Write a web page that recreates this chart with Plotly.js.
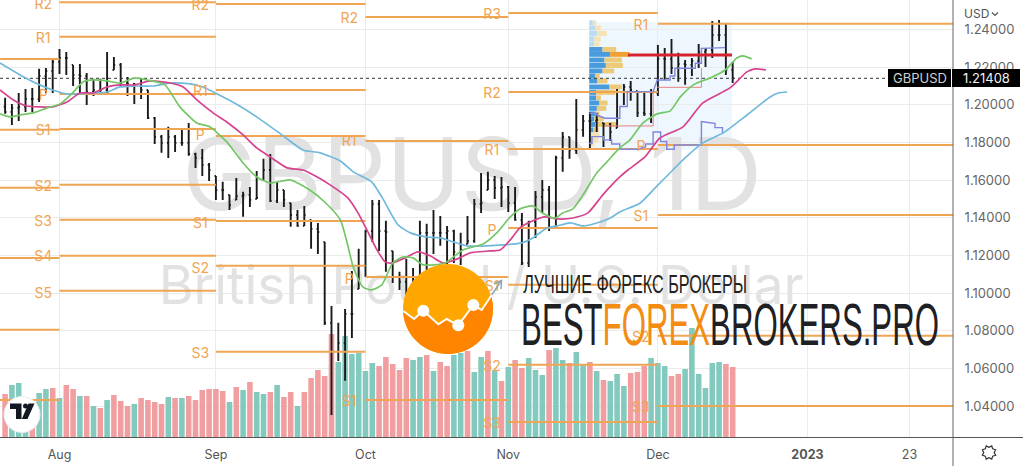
<!DOCTYPE html>
<html><head><meta charset="utf-8">
<script src="https://cdn.plot.ly/plotly-3.0.1.min.js"></script>
<style>html,body{margin:0;padding:0;background:#fff;overflow:hidden}#chart{width:1023px;height:466px}</style>
</head><body><div id="chart"></div>
<script>
// ---------- Daily bars, bar 0 = 1 Aug 2022
const barIndex = Array.from({length:108},(_,k)=>k-8);
const opens = [1.1990,1.1962,1.1984,1.1989,1.2031,1.2031,1.2153,1.2180,
1.2228,1.2249,1.2212,1.2159,1.2153,1.2068,1.2079,1.2079,1.2185,1.2212,1.2116,1.2111,1.2058,1.2079,1.1930,1.1830,1.1798,1.1830,1.1798,1.1798,1.1739,1.1718,1.1681,1.1622,1.1548,1.1522,1.1495,1.1516,1.1522,1.1500,1.1601,1.1654,1.1490,1.1548,1.1479,1.1415,1.1357,1.1389,1.1341,1.1272,1.0842,1.0688,1.0736,1.0890,1.1022,1.1145,1.1330,1.1474,1.1330,1.1224,1.1086,1.1060,1.1086,1.1070,1.1320,1.1320,1.1320,1.1320,1.1330,1.1219,1.1261,1.1277,1.1474,1.1548,1.1601,1.1559,1.1564,1.1479,1.1389,1.1160,1.1378,1.1511,1.1548,1.1346,1.1718,1.1830,1.1760,1.1867,1.1914,1.1914,1.1904,1.1899,1.1877,1.2068,1.2095,1.2074,1.1957,1.1952,1.2063,1.2244,1.2244,1.2196,1.2217,1.2212,1.2233,1.2281,1.2291,1.2371,1.2371,1.2185];
const highs = [1.2037,1.2005,1.2063,1.2084,1.2090,1.2191,1.2196,1.2249,
1.2297,1.2281,1.2212,1.2217,1.2169,1.2138,1.2138,1.2281,1.2254,1.2222,1.2148,1.2116,1.2143,1.2079,1.1936,1.1840,1.1883,1.1840,1.1867,1.1904,1.1745,1.1766,1.1691,1.1622,1.1591,1.1522,1.1612,1.1538,1.1564,1.1649,1.1713,1.1739,1.1591,1.1548,1.1479,1.1442,1.1463,1.1389,1.1373,1.1272,1.0932,1.0842,1.0916,1.1118,1.1235,1.1336,1.1495,1.1495,1.1384,1.1224,1.1113,1.1182,1.1134,1.1384,1.1368,1.1442,1.1410,1.1357,1.1336,1.1320,1.1410,1.1500,1.1638,1.1644,1.1622,1.1617,1.1569,1.1564,1.1426,1.1384,1.1543,1.1601,1.1569,1.1729,1.1856,1.1830,1.2031,1.1946,1.1962,1.1957,1.1904,1.1904,1.2084,1.2111,1.2127,1.2074,1.2068,1.2084,1.2318,1.2302,1.2350,1.2276,1.2238,1.2249,1.2323,1.2302,1.2445,1.2451,1.2435,1.2228];
const lows = [1.1952,1.1893,1.1914,1.1962,1.1962,1.2015,1.2063,1.2063,
1.2164,1.2159,1.2100,1.2058,1.1999,1.2047,1.2058,1.2063,1.2185,1.2100,1.2047,1.2005,1.2031,1.1925,1.1792,1.1745,1.1718,1.1750,1.1782,1.1729,1.1665,1.1622,1.1596,1.1495,1.1495,1.1442,1.1495,1.1405,1.1458,1.1500,1.1601,1.1484,1.1479,1.1458,1.1352,1.1352,1.1357,1.1235,1.1208,1.0831,1.0353,1.0640,1.0534,1.0762,1.1022,1.1086,1.1272,1.1224,1.1113,1.1054,1.1017,1.0991,1.0964,1.1044,1.1123,1.1208,1.1251,1.1155,1.1160,1.1150,1.1261,1.1267,1.1426,1.1548,1.1500,1.1458,1.1431,1.1384,1.1150,1.1139,1.1293,1.1426,1.1330,1.1346,1.1644,1.1713,1.1739,1.1830,1.1766,1.1856,1.1776,1.1808,1.1877,1.1999,1.2021,1.1936,1.1941,1.1904,1.2047,1.2132,1.2164,1.2122,1.2106,1.2153,1.2196,1.2201,1.2249,1.2339,1.2159,1.2116];
const closes = [1.1962,1.1984,1.1989,1.2031,1.2031,1.2153,1.2180,1.2228,
1.2249,1.2249,1.2159,1.2153,1.2068,1.2079,1.2079,1.2068,1.2212,1.2116,1.2111,1.2058,1.2079,1.1930,1.1830,1.1798,1.1830,1.1798,1.1798,1.1739,1.1718,1.1681,1.1654,1.1548,1.1548,1.1468,1.1516,1.1522,1.1495,1.1506,1.1654,1.1490,1.1548,1.1495,1.1415,1.1357,1.1415,1.1341,1.1325,1.0842,1.0688,1.0736,1.0890,1.0890,1.1145,1.1330,1.1474,1.1330,1.1325,1.1086,1.1060,1.1086,1.1070,1.1320,1.1320,1.1320,1.1320,1.1330,1.1219,1.1229,1.1277,1.1474,1.1479,1.1601,1.1559,1.1564,1.1479,1.1389,1.1160,1.1378,1.1511,1.1548,1.1346,1.1718,1.1830,1.1760,1.1867,1.1914,1.1914,1.1920,1.1899,1.1856,1.2068,1.2095,1.2079,1.1957,1.1952,1.2063,1.2244,1.2244,1.2196,1.2217,1.2212,1.2233,1.2281,1.2291,1.2371,1.2371,1.2185,1.21408];
const volumes = [43,52,54,40,30,44,48,49,
39,52,48,41,41,31,29,37,42,36,31,33,39,37,35,33,40,39,39,41,37,47,48,48,46,35,50,47,55,45,43,45,52,40,45,31,45,59,67,61,103,75,101,83,84,66,74,71,80,73,67,79,77,80,82,66,75,71,82,84,86,65,80,86,67,56,70,77,69,79,67,62,87,89,77,74,85,72,75,66,57,56,63,51,64,65,71,79,74,71,61,63,68,109,63,49,74,75,73,70];
const volumeSide = "r t t t r t t r t r r t r t r t r r r t r r r r t r t r r r r r r t r t r t t r t r r t r r r r r t t t t t t r r r r r t t r t r r t t r t t r t r t r r t t t r t t r t t r t r t t t r r r t t t r r t t t t t t r r".split(" ");

// ---------- Moving averages (bar position, price)
const greenX=[-8.75,-7.3,-5.8,-3.9,-1.8,0.1,1.8,3.5,4.9,7.0,8.9,11.1,12.9,15.5,17.7,20.2,22.1,24.6,27.0,29.0,31.0,33.9,36.8,39.0,41.3,42.3,43.2,44.6,45.9,47.4,49.0,50.5,52.0,53.5,56.7,59.3,62.3,64.3,66.3,67.7,69.6,71.0,72.9,74.0,75.5,77.0,79.0,80.5,82.4,83.9,85.8,87.9,89.8,91.3,93.2,95.7,97.9,99.6,100.5,101.8];
const greenY=[1.1952,1.1936,1.1946,1.1957,1.1984,1.2005,1.2058,1.2122,1.2132,1.2127,1.2116,1.2143,1.2132,1.2106,1.1989,1.1904,1.1883,1.1803,1.1691,1.1617,1.1585,1.1601,1.1548,1.1484,1.1389,1.1267,1.1139,1.1033,1.1017,1.1044,1.1160,1.1192,1.1187,1.1150,1.1160,1.1229,1.1261,1.1320,1.1405,1.1447,1.1463,1.1426,1.1399,1.1426,1.1447,1.1522,1.1638,1.1697,1.1771,1.1814,1.1904,1.1952,1.1968,1.2042,1.2106,1.2143,1.2185,1.2249,1.2260,1.2244];
const pinkX=[-8.75,-6.8,-4.8,-2.9,-1.0,1.1,3.0,4.9,7.0,8.9,11.1,13.3,16.3,18.2,20.2,22.6,24.6,27.0,29.0,31.0,33.5,35.8,37.3,39.8,42.4,43.9,45.2,46.7,47.9,48.9,51.1,52.7,54.5,56.4,58.5,60.4,63.3,64.8,66.3,67.7,69.6,71.4,73.2,75.5,77.7,79.9,82.4,83.6,86.1,88.3,91.7,94.6,98.6,101.1,102.3,103.9];
const pinkY=[1.2079,1.2026,1.1994,1.1989,1.1989,1.2015,1.2063,1.2063,1.2095,1.2106,1.2106,1.2127,1.2116,1.2095,1.2026,1.1957,1.1909,1.1840,1.1771,1.1723,1.1665,1.1654,1.1628,1.1575,1.1506,1.1426,1.1336,1.1229,1.1166,1.1160,1.1192,1.1219,1.1198,1.1160,1.1182,1.1214,1.1224,1.1229,1.1283,1.1346,1.1384,1.1405,1.1394,1.1399,1.1426,1.1522,1.1617,1.1654,1.1723,1.1824,1.1883,1.2010,1.2090,1.2175,1.2191,1.2185];
const blueX=[-8.75,-5.8,-2.9,-1.0,1.1,3.0,4.9,7.0,8.9,11.1,13.8,16.3,19.2,20.7,23.2,26.5,29.0,32.9,35.8,38.3,41.3,43.2,45.9,47.4,49.8,51.6,54.1,56.0,57.9,59.9,62.9,65.2,68.0,69.6,71.7,73.2,75.1,77.0,79.5,81.0,82.4,85.4,87.6,90.2,92.0,94.6,97.6,101.1,104.5,105.7,107.0];
const blueY=[1.2222,1.2159,1.2106,1.2079,1.2058,1.2058,1.2063,1.2068,1.2095,1.2100,1.2100,1.2116,1.2111,1.2100,1.2058,1.1994,1.1936,1.1835,1.1760,1.1745,1.1702,1.1644,1.1591,1.1511,1.1362,1.1320,1.1298,1.1293,1.1272,1.1251,1.1251,1.1256,1.1267,1.1293,1.1346,1.1357,1.1373,1.1357,1.1378,1.1399,1.1431,1.1479,1.1559,1.1654,1.1718,1.1798,1.1851,1.1946,1.2042,1.2063,1.2068];

// ---------- Monthly pivots: [first bar, last bar] and levels
const pivotSpans = {jul:[-8.75,0], aug:[0,23], sep:[23,45], oct:[45,66], nov:[66,88], dec:[88,131.4]};
const pivotJul=[1.2244,1.1867,1.1559,1.1187,1.0805,1.0433];
const pivotAug=[1.2545,1.2361,1.2058,1.1872,1.1575,1.1389,1.1198,1.1012];
const pivotSep=[1.2536,1.2079,1.1835,1.1383,1.1145,1.0688];
const pivotOct=[1.2467,1.1808,1.1086,1.0433];
const pivotNov=[1.2488,1.2068,1.1766,1.1346,1.1044,1.0619,1.0316];
const pivotDec=[1.2430,1.1787,1.1415,1.0773,1.0401];
const labelText=["R2","R1","P","S1","S2","S3","S4","S5","R2","R1","P","S1","S2","S3","R2","R1","P","S1","R3","R2","R1","P","S1","S2","S3","R1","P","S1","S2","S3"];
const labelBar=[-2.4,-2.4,-2.4,-2.4,-2.4,-2.4,-2.4,-2.4,20.7,20.7,20.7,20.7,20.7,20.7,42.6,42.6,42.6,42.6,63.6,63.6,63.6,63.6,63.6,63.6,63.6,85.5,85.5,85.5,85.5,85.5];
const labelPrice=[1.2530,1.2345,1.2042,1.1856,1.1559,1.1373,1.1187,1.0991,1.2520,1.2063,1.1830,1.1362,1.1123,1.0672,1.2451,1.1798,1.1065,1.0417,1.2472,1.2053,1.1750,1.1325,1.1028,1.0603,1.0300,1.2414,1.1776,1.1399,1.0757,1.0385];

// ---------- Visible range volume profile
const profilePrice=[1.2436,1.2408,1.2379,1.2350,1.2323,1.2294,1.2268,1.2238,1.2209,1.2180,1.2153,1.2127,1.2095,1.2066,1.2037,1.2010,1.1981,1.1952,1.1925,1.1896,1.1867,1.1840,1.1814,1.1792];
const profileUp=[0.54,0.88,1.22,0.74,0.74,1.96,3.09,2.25,2.45,1.96,0.88,1.22,2.99,1.03,1.03,1.52,1.13,0.88,0.74,0.88,0.64,0.25,0.64,0.40];
const profileDown=[0.49,0.83,1.37,0.98,0.78,2.01,2.84,2.55,2.50,1.72,0.64,1.47,1.81,2.79,0.69,1.18,1.37,0.64,1.37,3.33,0.74,1.27,0.74,0.40];
const profileStart=77.9, profileEnd=98.9, profileTop=1.2440, profileBottom=1.1761, pocPrice=1.2265, pocFrom=83.6;

// ---------- Developing levels inside the profile
const vahX=[77.9,79,79,80.2,82.4,82.4,83.5,83.5,87.3,87.9,89.8,89.8,90.5,90.5,93.5,93.5,94.4,94.4,97.9];
const vahY=[1.1955,1.1955,1.1946,1.1929,1.1929,1.1991,1.1991,1.2070,1.2070,1.2132,1.2132,1.2153,1.2153,1.2194,1.2194,1.2221,1.2221,1.2300,1.2304];
const valX=[77.9,78.3,78.3,80,80,81.2,81.2,82.4,82.4,85.1,86.2,86.2,87.3,87.3,88.4,88.4,89.3,89.3,90.4,90.4,94.4,94.4,95.4,96.4,96.4,97.5,97.5];
const valY=[1.1796,1.1796,1.1831,1.1831,1.1814,1.1814,1.1792,1.1792,1.1764,1.1764,1.1778,1.1792,1.1792,1.1856,1.1856,1.1805,1.1805,1.1764,1.1764,1.1787,1.1787,1.1911,1.1906,1.1902,1.1879,1.1879,1.1849];
const boxX=[80.2,87.3,87.3,null,87.9,94.4,94.4];
const boxY=[1.1888,1.1888,1.2070,null,1.2093,1.2093,1.2194];

const lastPrice=1.21408;
const xTickVals=[0,23,45,66,88,110,125];
const xTickText=["Aug","Sep","Oct","Nov","Dec","<b>2023</b>","23"];
const yTickVals=[1.04,1.06,1.08,1.10,1.12,1.14,1.16,1.18,1.20,1.22,1.24];

// ---------- Geometry of the frame
const W=953,H=437;
const X=p=>p/W, Y=p=>1-p/H;
const ORANGE="#f0a554";

function pivotSeries(){
  const x=[],y=[];
  [[pivotJul,pivotSpans.jul],[pivotAug,pivotSpans.aug],[pivotSep,pivotSpans.sep],[pivotOct,pivotSpans.oct],[pivotNov,pivotSpans.nov],[pivotDec,pivotSpans.dec]].forEach(([lv,s])=>{
    lv.forEach(v=>{x.push(s[0],s[1],null);y.push(v,v,null);});
  });
  return {x,y};
}
const piv=pivotSeries();
const isLight=profilePrice.map((_,k)=>k<5||k>=21);

const traces=[
 {type:"bar",x:barIndex,y:volumes,xaxis:"x",yaxis:"y",width:0.82,hoverinfo:"skip",
  marker:{color:volumeSide.map(s=>s==="r"?"#f09ea0":"#82c9be"),line:{width:0}}},
 {type:"scatter",mode:"text",x:[60.7],y:[252],xaxis:"x",yaxis:"y",text:["GBPUSD, 1D"],hoverinfo:"skip",
  textposition:"middle center",textfont:{family:"Inter, 'Liberation Sans'",size:100,color:"#e2e2e2"}},
 {type:"scatter",mode:"text",x:[62],y:[146],xaxis:"x",yaxis:"y",text:["British Pound / U.S. Dollar"],hoverinfo:"skip",
  textposition:"middle center",textfont:{family:"Inter, 'Liberation Sans'",size:53,color:"#e2e2e2"}},
 {type:"bar",orientation:"h",y:profilePrice,x:profileUp,base:profilePrice.map(()=>profileStart),xaxis:"x",yaxis:"y2",width:0.0026,hoverinfo:"skip",
  marker:{color:profilePrice.map((_,k)=>isLight[k]?"#b9dcf3":"#4a9bdc"),line:{width:0}}},
 {type:"bar",orientation:"h",y:profilePrice,x:profileDown,base:profileUp.map(u=>profileStart+u),xaxis:"x",yaxis:"y2",width:0.0026,hoverinfo:"skip",
  marker:{color:profilePrice.map((_,k)=>k===6?"#f0a030":(isLight[k]?"#f6e3b5":"#ecca78")),line:{width:0}}},
 {type:"ohlc",x:barIndex,open:opens,high:highs,low:lows,close:closes,xaxis:"x",yaxis:"y2",tickwidth:0.2,hoverinfo:"skip",
  increasing:{line:{color:"#1a1a1a",width:1.9}},decreasing:{line:{color:"#1a1a1a",width:1.9}}},
 {type:"scatter",mode:"lines",x:piv.x,y:piv.y,xaxis:"x",yaxis:"y2",hoverinfo:"skip",line:{color:ORANGE,width:2}},
 {type:"scatter",mode:"lines",x:[-8.75,122],y:[lastPrice,lastPrice],xaxis:"x",yaxis:"y2",hoverinfo:"skip",line:{color:"#333",width:1,dash:"dot"}},
 {type:"scatter",mode:"lines",x:vahX,y:vahY,xaxis:"x",yaxis:"y2",hoverinfo:"skip",line:{color:"#7f86dc",width:1.4}},
 {type:"scatter",mode:"lines",x:valX,y:valY,xaxis:"x",yaxis:"y2",hoverinfo:"skip",line:{color:"#7f86dc",width:1.4}},
 {type:"scatter",mode:"lines",x:boxX,y:boxY,xaxis:"x",yaxis:"y2",hoverinfo:"skip",line:{color:"#e58080",width:1}},
 {type:"scatter",mode:"lines",x:[pocFrom,profileEnd],y:[pocPrice,pocPrice],xaxis:"x",yaxis:"y2",hoverinfo:"skip",line:{color:"#d5222f",width:3}},
 {type:"scatter",mode:"lines",x:blueX,y:blueY,xaxis:"x",yaxis:"y2",hoverinfo:"skip",line:{color:"#70b9dc",width:1.7,shape:"spline",smoothing:0.6}},
 {type:"scatter",mode:"lines",x:pinkX,y:pinkY,xaxis:"x",yaxis:"y2",hoverinfo:"skip",line:{color:"#d6428e",width:1.7,shape:"spline",smoothing:0.6}},
 {type:"scatter",mode:"lines",x:greenX,y:greenY,xaxis:"x",yaxis:"y2",hoverinfo:"skip",line:{color:"#74c766",width:1.7,shape:"spline",smoothing:0.6}},
 {type:"scatter",mode:"text",x:labelBar,y:labelPrice,text:labelText,xaxis:"x",yaxis:"y2",hoverinfo:"skip",
  textposition:"middle center",textfont:{family:"Inter, 'Liberation Sans'",size:14,color:ORANGE}}
];

// ---------- Logo and frame decoration
const cx=448,cy=309,r=45;
const zig=[[403.3,311],[414,319],[423.3,310.7],[438.3,324.3],[446.7,319],[458.3,325.3],[473.3,305],[481.7,310],[491.7,295]];
const dots=[[423.3,310.7],[458.3,325.3],[473.3,305]];
const pt=(a)=>X(a[0])+","+Y(a[1]);
const pathOf=(pts,close)=>"M"+pts.map(pt).join("L")+(close?"Z":"");
const low=zig.slice();
for(let a=-16;a<=176;a+=6){low.push([cx+r*Math.cos(a*Math.PI/180),cy+r*Math.sin(a*Math.PI/180)]);}
const circ=(x,y,rad,fill,line,lw)=>({type:"circle",xref:"paper",yref:"paper",x0:X(x-rad),x1:X(x+rad),y0:Y(y+rad),y1:Y(y-rad),fillcolor:fill,line:{color:line||fill,width:lw==null?0:lw},layer:"above"});
const pathShape=(pts,fill,line,lw,close)=>({type:"path",xref:"paper",yref:"paper",path:pathOf(pts,close),fillcolor:fill||"rgba(0,0,0,0)",line:{color:line||"rgba(0,0,0,0)",width:lw||0},layer:"above"});

const gear=[];
for(let k=0;k<=16;k++){const a=k*Math.PI/8;const rr=k%2?5.2:7.2;gear.push([989+rr*Math.cos(a+Math.PI/8),452.5+rr*Math.sin(a+Math.PI/8)]);}

const shapes=[
 {type:"rect",xref:"x",yref:"y2",x0:profileStart,x1:profileEnd,y0:profileBottom,y1:profileTop,fillcolor:"rgba(33,150,243,0.08)",line:{width:0},layer:"below"},
 circ(cx,cy,r,"#ffa600"),
 pathShape(low,"#ff8500",null,0,true),
 pathShape([[491.7,295],[501,281]],null,"#8fa3ad",1.5),
 pathShape([[494,284],[501.5,280.5],[501,289]],null,"#8fa3ad",1.5),
 pathShape(zig,null,"#ffffff",2),
 circ(dots[0][0],dots[0][1],6,"#fff"),circ(dots[1][0],dots[1][1],6,"#fff"),circ(dots[2][0],dots[2][1],6,"#fff"),
 // TradingView badge
 circ(22,414.5,18,"#ffffff","#ececec",1),
 pathShape([[10,403.5],[21.5,403.5],[21.5,419],[16,419],[16,409],[10,409]],"#131722",null,0,true),
 circ(25.5,406,2.5,"#131722"),
 pathShape([[28.5,403.5],[34.5,403.5],[27.5,419],[21.8,419]],"#131722",null,0,true),
 // axis frame
 {type:"line",xref:"paper",yref:"paper",x0:X(953),x1:X(953),y0:Y(0),y1:Y(466),line:{color:"#666",width:1},layer:"above"},
 {type:"line",xref:"paper",yref:"paper",x0:0,x1:X(1023),y0:Y(437.5),y1:Y(437.5),line:{color:"#555",width:1},layer:"above"},
 // price tags
 {type:"rect",xref:"paper",yref:"paper",x0:X(888),x1:X(951),y0:Y(87),y1:Y(69),fillcolor:"#000",line:{width:0},layer:"above"},
 {type:"rect",xref:"paper",yref:"paper",x0:X(952),x1:X(1020),y0:Y(87),y1:Y(69),fillcolor:"#000",line:{width:0},layer:"above"},
 // currency chevron
 pathShape([[992,12.5],[995,15.5],[998,12.5]],null,"#555",1.2),
 // settings
 pathShape(gear,"#fff","#333",1.2,true),
 circ(989,452.5,3.2,"#fff","#fff",0)
];

const ann=(text,px,py,size,color,anchor,extra)=>Object.assign({text,xref:"paper",yref:"paper",x:X(px),y:Y(py),xanchor:anchor||"left",yanchor:"middle",showarrow:false,font:{family:"Inter, 'Liberation Sans'",size,color}},extra||{});
const annotations=[
 ann("GBPUSD",919.5,78,13,"#d0d0d0","center"),
 ann("1.21408",986,78,13,"#f2f2f2","center"),
 ann("USD",962,13,12,"#555","left"),
 ann("ЛУЧШИЕ ФОРЕКС БРОКЕРЫ",521,283.5,24,"#222","left",{font:{family:"'Liberation Sans'",size:25,color:"#222"}}),
 ann('BEST<span style="color:#f28c13">FOREX</span>BROKERS.PRO',519,324,60,"#222","left",{font:{family:"'Liberation Sans'",size:60,color:"#1e2024"}})
];

const layout={
 width:1023,height:466,autosize:false,showlegend:false,hovermode:false,dragmode:false,barmode:"overlay",
 margin:{l:0,r:70,t:0,b:29,pad:0},paper_bgcolor:"#fff",plot_bgcolor:"#fff",
 xaxis:{type:"linear",range:[-8.75,131.4],tickmode:"array",tickvals:xTickVals,ticktext:xTickText,showgrid:true,gridcolor:"#ebebeb",gridwidth:1,zeroline:false,
   ticks:"outside",ticklen:6,tickcolor:"rgba(0,0,0,0)",tickfont:{family:"Inter, 'Liberation Sans'",size:12.5,color:"#555"},showline:false,rangeslider:{visible:false},fixedrange:true},
 yaxis:{range:[0,437],showgrid:false,zeroline:false,showticklabels:false,ticks:"",fixedrange:true},
 yaxis2:{overlaying:"y",side:"right",range:[1.02359,1.25567],tickmode:"array",tickvals:yTickVals,tickformat:".5f",showgrid:true,gridcolor:"#ebebeb",gridwidth:1,zeroline:false,
   ticks:"outside",ticklen:8,tickcolor:"rgba(0,0,0,0)",tickfont:{family:"Inter, 'Liberation Sans'",size:13,color:"#666"},showline:false,fixedrange:true},
 shapes,annotations
};

Plotly.newPlot("chart",traces,layout,{staticPlot:true,displayModeBar:false}).then(()=>{
  // The brand lettering is a condensed face: narrow the real text to its measured span.
  const fit=[["ЛУЧШИЕ",224],["BEST",418]];
  document.querySelectorAll(".annotation-text").forEach(t=>{
    fit.forEach(([key,w])=>{
      if(t.textContent.indexOf(key)===0){
        const len=t.getComputedTextLength();
        t.style.transformBox="fill-box";
        t.style.transformOrigin="left center";
        t.style.transform="scaleX("+(w/len)+")";
      }
    });
  });
});
</script></body></html>
